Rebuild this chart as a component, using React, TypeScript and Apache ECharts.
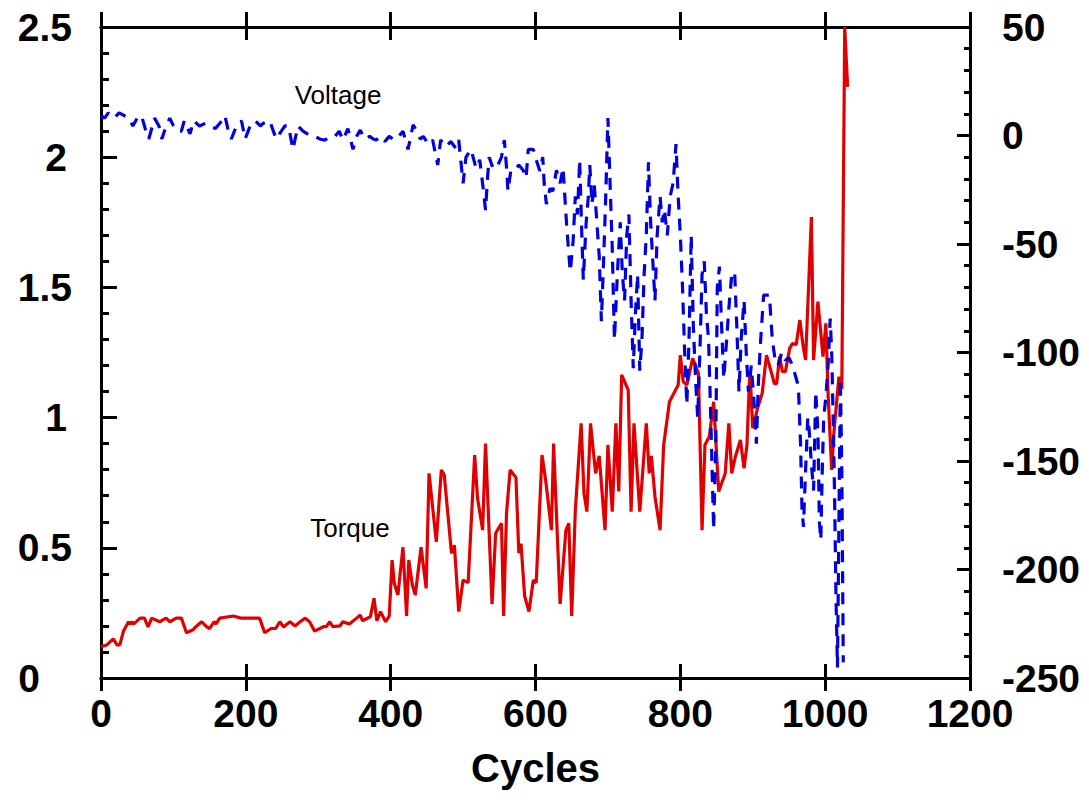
import React, { useEffect, useRef } from "react";
import * as echarts from "echarts";

const xTickLabels = ["0", "200", "400", "600", "800", "1000", "1200"];
const leftTickLabels = ["0", "0.5", "1", "1.5", "2", "2.5"];

const torqueCycles = [
  0, 8, 17, 22, 26, 31, 38, 40, 43, 45, 54, 60, 65, 70, 81, 90, 95, 104, 111, 118,
  127, 131, 139, 146, 150, 156, 159, 164, 183, 193, 219, 226, 235, 241, 247, 252, 261, 268, 275, 282,
  288, 295, 307, 311, 316, 320, 330, 334, 343, 353, 358, 361, 372, 377, 381, 386, 393, 398, 402, 405,
  410, 417, 422, 425, 430, 434, 442, 449, 453, 463, 470, 474, 484, 488, 494, 500, 507, 516, 520, 527,
  531, 540, 545, 553, 556, 560, 565, 573, 577, 580, 585, 591, 597, 601, 609, 614, 622, 625, 634, 642,
  646, 650, 655, 663, 667, 671, 676, 683, 688, 696, 700, 706, 711, 715, 719, 728, 732, 736, 744, 753,
  757, 760, 765, 772, 777, 785, 797, 800, 804, 809, 817, 825, 830, 834, 840, 846, 853, 862, 867, 871,
  876, 883, 888, 892, 896, 900, 907, 913, 919, 930, 933, 937, 941, 945, 951, 955, 960, 965, 970, 973,
  981, 984, 990, 997, 1001, 1004, 1009, 1012, 1019, 1023, 1027, 1031,
];
const torqueValues = [
  0.12, 0.127, 0.15, 0.127, 0.127, 0.18, 0.216, 0.207, 0.216, 0.207, 0.23, 0.23, 0.196, 0.23, 0.216, 0.23, 0.216, 0.23, 0.23, 0.174,
  0.185, 0.197, 0.216, 0.196, 0.19, 0.216, 0.208, 0.23, 0.238, 0.23, 0.23, 0.174, 0.19, 0.19, 0.216, 0.196, 0.216, 0.2, 0.216, 0.23,
  0.216, 0.18, 0.197, 0.197, 0.216, 0.197, 0.2, 0.216, 0.207, 0.23, 0.242, 0.22, 0.235, 0.306, 0.22, 0.255, 0.216, 0.238, 0.453, 0.364,
  0.319, 0.502, 0.238, 0.453, 0.357, 0.319, 0.502, 0.344, 0.786, 0.523, 0.799, 0.78, 0.479, 0.51, 0.255, 0.376, 0.366, 0.856, 0.69, 0.568,
  0.9, 0.284, 0.556, 0.594, 0.238, 0.634, 0.799, 0.77, 0.479, 0.516, 0.315, 0.255, 0.376, 0.366, 0.856, 0.76, 0.568, 0.9, 0.284, 0.568,
  0.594, 0.238, 0.645, 0.978, 0.709, 0.639, 0.978, 0.786, 0.853, 0.568, 0.895, 0.639, 0.978, 0.716, 1.164, 1.106, 0.639, 0.978, 0.639, 0.978,
  0.786, 0.853, 0.696, 0.568, 0.895, 1.061, 1.125, 1.24, 1.138, 1.125, 1.228, 1.17, 0.568, 0.895, 0.927, 1.061, 0.716, 0.786, 0.978, 0.786,
  0.85, 0.914, 0.805, 0.895, 1.183, 0.959, 1.04, 1.093, 1.24, 1.13, 1.13, 1.234, 1.176, 1.176, 1.266, 1.285, 1.28, 1.375, 1.266, 1.221,
  1.77, 1.221, 1.445, 1.234, 1.362, 1.093, 0.799, 0.94, 1.157, 1.11, 2.5, 2.27,
];

const voltageCycles = [
  0, 5, 10, 18, 25, 32, 38, 44, 50, 56, 62, 66, 70, 74, 80, 84, 90, 95, 100, 106,
  111, 115, 123, 128, 136, 144, 150, 158, 167, 171, 176, 180, 187, 194, 199, 206, 213, 220, 224, 233,
  238, 242, 249, 254, 259, 265, 272, 279, 285, 291, 296, 302, 309, 316, 323, 329, 334, 341, 348, 353,
  358, 364, 371, 376, 380, 386, 392, 398, 405, 411, 417, 424, 431, 436, 441, 445, 452, 458, 465, 469,
  476, 483, 490, 494, 500, 504, 511, 518, 523, 528, 531, 534, 536, 541, 546, 553, 557, 560, 562, 566,
  571, 577, 583, 587, 590, 597, 601, 606, 610, 612, 615, 620, 624, 629, 634, 638, 643, 646, 648, 652,
  655, 658, 661, 664, 666, 670, 673, 675, 678, 681, 684, 688, 691, 694, 697, 700, 703, 706, 709, 713,
  717, 720, 723, 726, 729, 732, 735, 738, 741, 744, 747, 750, 753, 756, 759, 762, 765, 768, 772, 775,
  778, 782, 786, 790, 794, 797, 800, 803, 806, 809, 812, 815, 818, 821, 824, 827, 830, 833, 836, 839,
  842, 846, 849, 851, 854, 857, 860, 864, 867, 871, 875, 878, 881, 884, 888, 891, 894, 898, 902, 905,
  908, 911, 915, 919, 923, 927, 931, 935, 940, 945, 950, 955, 960, 963, 966, 968, 970, 973, 976, 978,
  981, 984, 987, 990, 992, 994, 996, 998, 1001, 1004, 1007, 1009, 1011, 1013, 1015, 1017, 1019, 1021, 1023, 1025,
];
const voltageValues = [
  2.16, 2.15, 2.17, 2.15, 2.17, 2.16, 2.15, 2.12, 2.15, 2.16, 2.1, 2.07, 2.11, 2.15, 2.12, 2.07, 2.12, 2.15, 2.12, 2.1,
  2.1, 2.14, 2.09, 2.14, 2.12, 2.13, 2.12, 2.11, 2.14, 2.16, 2.1, 2.07, 2.12, 2.14, 2.07, 2.12, 2.14, 2.12, 2.13, 2.14,
  2.1, 2.07, 2.1, 2.12, 2.12, 2.03, 2.12, 2.1, 2.09, 2.08, 2.08, 2.07, 2.065, 2.08, 2.08, 2.1, 2.066, 2.11, 2.03, 2.08,
  2.104, 2.07, 2.08, 2.07, 2.066, 2.08, 2.06, 2.08, 2.066, 2.08, 2.1, 2.03, 2.124, 2.1, 2.07, 2.08, 2.05, 2.066, 1.97, 2.066,
  2.04, 2.06, 2.034, 2.066, 1.9, 2.0, 2.03, 1.957, 1.99, 1.874, 1.797, 1.93, 2.0, 1.96, 1.957, 2.0, 2.066, 1.96, 1.87, 1.95,
  1.95, 1.97, 1.95, 1.92, 2.03, 2.03, 1.99, 1.947, 2.0, 1.9, 1.82, 1.88, 1.87, 1.95, 1.9, 1.96, 1.74, 1.63, 1.56, 1.68,
  1.85, 1.78, 1.99, 1.7, 1.53, 1.75, 1.85, 1.97, 1.82, 1.9, 1.78, 1.62, 1.37, 1.6, 1.85, 2.15, 1.9, 1.65, 1.3, 1.55,
  1.75, 1.55, 1.45, 1.7, 1.78, 1.45, 1.19, 1.4, 1.55, 1.18, 1.3, 1.55, 1.7, 1.98, 1.75, 1.6, 1.45, 1.7, 1.85, 1.75,
  1.8, 1.7, 1.85, 1.9, 2.05, 1.85, 1.7, 1.5, 1.25, 1.05, 1.3, 1.7, 1.35, 1.15, 1.0, 1.25, 1.55, 1.6, 1.4, 1.3,
  1.0, 0.57, 0.9, 1.5, 1.58, 1.35, 1.15, 1.3, 1.42, 1.55, 1.56, 1.35, 1.1, 1.3, 1.45, 1.25, 1.1, 1.2, 1.05, 0.9,
  1.15, 1.3, 1.47, 1.47, 1.47, 1.3, 1.22, 1.2, 1.25, 1.22, 1.23, 1.2, 1.15, 1.12, 0.9, 0.65, 0.58, 0.8, 1.0, 0.95,
  0.82, 0.72, 1.1, 0.95, 0.6, 0.53, 0.8, 1.0, 1.08, 1.2, 1.38, 1.25, 1.0, 0.7, 0.3, 0.04, 0.6, 1.15, 0.8, 0.06,
];

const FONT = "'Liberation Sans', Arial, sans-serif";

export default function App() {
  const ref = useRef<HTMLDivElement>(null);
  useEffect(() => {
    if (!ref.current) return;
    const chart = echarts.init(ref.current, null, { renderer: "svg" });
    const torqueData = torqueCycles.map((c, i) => [c, torqueValues[i]]);
    const voltageData = voltageCycles.map((c, i) => [c, voltageValues[i]]);
    const axisLine = { show: true, onZero: false, lineStyle: { color: "#000", width: 3 } };
    const labelFont = { fontSize: 39, fontWeight: "bold", fontFamily: FONT, color: "#000" };
    const baseX = {
      type: "value",
      min: 0,
      max: 1200,
      interval: 200,
      splitLine: { show: false },
      axisLine,
    };
    chart.setOption({
      animation: false,
      backgroundColor: "#fff",
      grid: { left: 101, right: 119, top: 27, bottom: 122, containLabel: false },
      xAxis: [
        {
          ...baseX,
          position: "bottom",
          axisTick: { show: true, inside: false, length: 13, lineStyle: { color: "#000", width: 3 } },
          axisLabel: {
            show: true,
            margin: 16,
            ...labelFont,
            formatter: (v: number) => xTickLabels[Math.round(v / 200)] ?? String(v),
          },
          name: "Cycles",
          nameLocation: "middle",
          nameGap: 70,
          nameTextStyle: { fontSize: 40, fontWeight: "bold", fontFamily: FONT, color: "#000" },
        },
        {
          ...baseX,
          position: "bottom",
          axisTick: { show: true, inside: true, length: 14, lineStyle: { color: "#000", width: 3 } },
          axisLabel: { show: false },
        },
        {
          ...baseX,
          position: "top",
          axisTick: { show: true, inside: false, length: 15, lineStyle: { color: "#000", width: 3 } },
          axisLabel: { show: false },
        },
        {
          ...baseX,
          position: "top",
          axisTick: { show: true, inside: true, length: 13, lineStyle: { color: "#000", width: 3 } },
          axisLabel: { show: false },
        },
      ],
      yAxis: [
        {
          type: "value",
          position: "left",
          min: 0,
          max: 2.5,
          interval: 0.5,
          splitLine: { show: false },
          axisLine,
          axisTick: { show: true, inside: true, length: 16, lineStyle: { color: "#000", width: 3 } },
          minorTick: { show: true, splitNumber: 5, length: 8, lineStyle: { color: "#000", width: 3 } },
          axisLabel: {
            margin: 29,
            ...labelFont,
            formatter: (v: number) => {
              const s = leftTickLabels[Math.round(v / 0.5)] ?? String(v);
              if (s === "0") return "{z|" + s + "}";
              if (s === "1" || s === "2") return "{i|" + s + "}";
              return s;
            },
            rich: {
              z: { ...labelFont, padding: [0, 32, 0, 0] },
              i: { ...labelFont, padding: [0, 5, 0, 0] },
            },
          },
        },
        {
          type: "value",
          position: "right",
          min: -250,
          max: 50,
          interval: 50,
          splitLine: { show: false },
          axisLine,
          axisTick: { show: true, inside: true, length: 13, lineStyle: { color: "#000", width: 3 } },
          minorTick: { show: true, splitNumber: 5, length: 6, lineStyle: { color: "#000", width: 3 } },
          axisLabel: {
            margin: 32,
            ...labelFont,
          },
        },
      ],
      series: [
        {
          name: "Torque",
          type: "line",
          xAxisIndex: 0,
          yAxisIndex: 0,
          data: torqueData,
          showSymbol: false,
          symbol: "none",
          clip: true,
          lineStyle: { color: "#e00000", width: 3.2 },
          z: 3,
        },
        {
          name: "Voltage",
          type: "line",
          xAxisIndex: 0,
          yAxisIndex: 0,
          data: voltageData,
          showSymbol: false,
          symbol: "none",
          clip: true,
          lineStyle: { color: "#0000dd", width: 3.2, type: [12, 9] },
          z: 4,
        },
      ],
      graphic: [
        {
          type: "text",
          x: 338,
          y: 95,
          style: { text: "Voltage", fontSize: 26, fontFamily: FONT, fill: "#000", align: "center", verticalAlign: "middle" },
        },
        {
          type: "text",
          x: 350,
          y: 528,
          style: { text: "Torque", fontSize: 26, fontFamily: FONT, fill: "#000", align: "center", verticalAlign: "middle" },
        },
      ],
    });
    return () => chart.dispose();
  }, []);
  return (
    <div
      ref={ref}
      style={{ position: "fixed", left: 0, top: 0, width: 1089, height: 800, background: "#fff" }}
    />
  );
}
